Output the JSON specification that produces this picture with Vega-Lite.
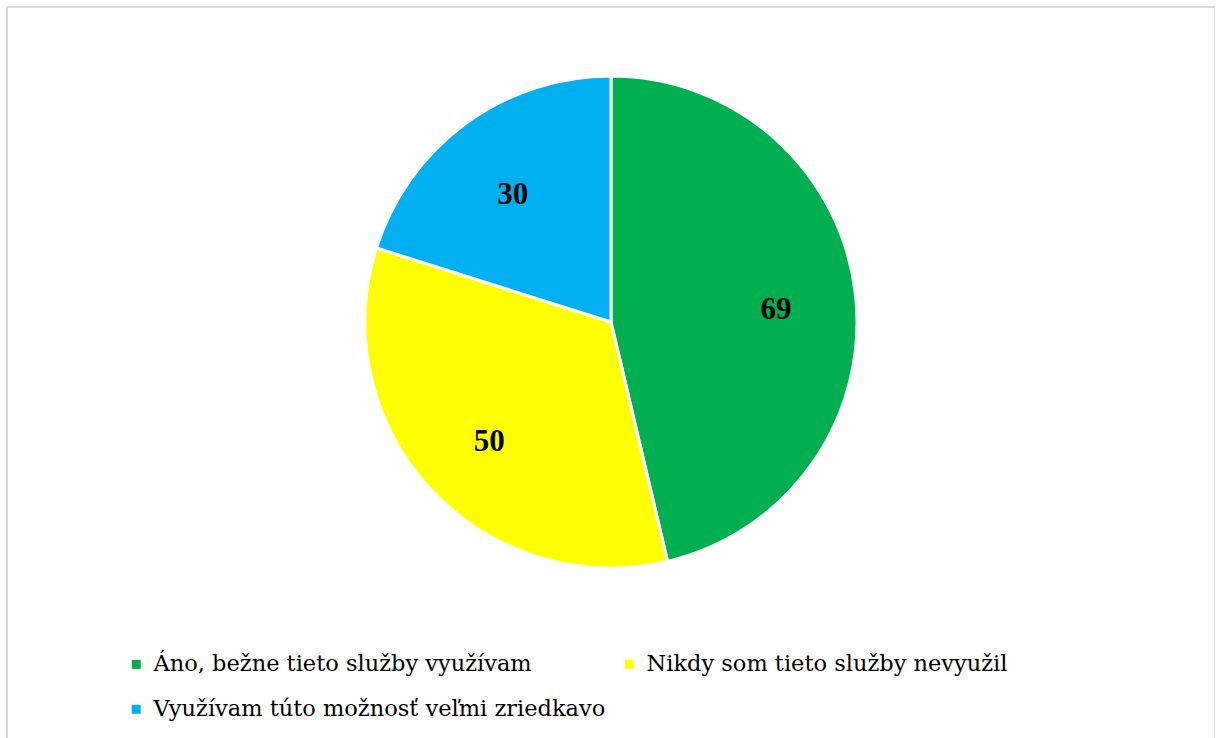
{
  "$schema": "https://vega.github.io/schema/vega-lite/v6.json",
  "width": 1208,
  "height": 740,
  "padding": {"left": 7, "top": 7, "right": 0, "bottom": 0},
  "background": "white",
  "view": {"stroke": "#d9d9d9", "strokeWidth": 2},
  "config": {
    "font": "Liberation Serif",
    "legend": {
      "orient": "none",
      "legendX": 118,
      "legendY": 646,
      "direction": "horizontal",
      "columns": 2,
      "columnPadding": 12,
      "rowPadding": 22,
      "symbolType": "square",
      "symbolSize": 81,
      "symbolStrokeWidth": 0,
      "labelFont": "DejaVu Serif",
      "labelFontSize": 22.5,
      "labelColor": "#000000",
      "labelOffset": 6,
      "labelLimit": 0,
      "title": null
    }
  },
  "data": {
    "values": [
      {"odpoved": "Áno, bežne tieto služby využívam", "pocet": 69, "poradie": 1},
      {"odpoved": "Nikdy som tieto služby nevyužil", "pocet": 50, "poradie": 2},
      {"odpoved": "Využívam túto možnosť veľmi zriedkavo", "pocet": 30, "poradie": 3}
    ]
  },
  "encoding": {
    "theta": {"field": "pocet", "type": "quantitative", "stack": true},
    "order": {"field": "poradie", "type": "quantitative"},
    "color": {
      "field": "odpoved",
      "type": "nominal",
      "sort": null,
      "scale": {
        "domain": [
          "Áno, bežne tieto služby využívam",
          "Nikdy som tieto služby nevyužil",
          "Využívam túto možnosť veľmi zriedkavo"
        ],
        "range": ["#00b050", "#ffff00", "#00b0f0"]
      },
      "legend": {
        "title": null,
        "direction": "horizontal",
        "columns": 2,
        "labelFont": "DejaVu Serif",
        "labelFontSize": 22.5,
        "labelColor": "#000000",
        "labelLimit": 0
      }
    }
  },
  "layer": [
    {
      "mark": {
        "type": "arc",
        "outerRadius": 246,
        "stroke": "white",
        "strokeWidth": 3,
        "yOffset": -55
      }
    },
    {
      "mark": {
        "type": "text",
        "radius": 166,
        "font": "Liberation Serif",
        "fontSize": 31,
        "fontWeight": "bold",
        "color": "#000000",
        "yOffset": -48,
        "baseline": "middle",
        "align": "center"
      },
      "encoding": {
        "text": {"field": "pocet", "type": "quantitative"},
        "color": {"value": "#000000"}
      }
    }
  ]
}
